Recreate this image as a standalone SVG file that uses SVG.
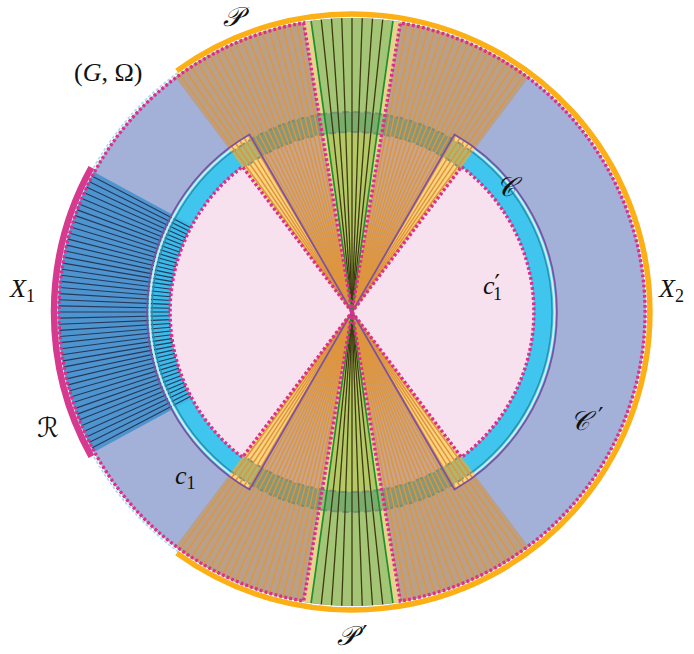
<svg xmlns="http://www.w3.org/2000/svg" xmlns:xlink="http://www.w3.org/1999/xlink" width="694" height="654" viewBox="0 0 694 654">
<style>
.lbl{font-family:"Liberation Serif","DejaVu Serif",serif;font-size:26px;fill:#111}
.it{font-style:italic}
.scr{font-family:"DejaVu Serif","DejaVu Sans","Noto Sans",serif;font-size:27px;fill:#111;font-style:italic}
.sub{font-size:18px;font-style:normal}
.pr{font-family:"DejaVu Sans",sans-serif;font-size:24px;font-style:normal;fill:#111}
.orr{stroke:#de953e;stroke-width:1.5}
.grr{stroke:#3e3a10;stroke-width:1.3}
.gre{stroke:#1f8f2d;stroke-width:1.7}
.blr{stroke:#26395a;stroke-width:1.1}
.dot{fill:none;stroke:#dd2f8a;stroke-width:3.4;stroke-dasharray:2.8 2.3}
.pur{fill:none;stroke:#7d519f;stroke-width:1.7}
.bandedge{fill:none;stroke:#6f8a78;stroke-width:2;stroke-dasharray:7 4;opacity:0.8}
</style>
<defs>
<line id="ro" x1="0" y1="0" x2="294" y2="0"/>
<line id="rb" x1="182" y1="0" x2="293" y2="0"/>
<g id="topRays">
<g class="orr">
<use href="#ro" transform="rotate(-54)"/><use href="#ro" transform="rotate(-55.4)"/><use href="#ro" transform="rotate(-56.8)"/><use href="#ro" transform="rotate(-58.2)"/><use href="#ro" transform="rotate(-59.6)"/><use href="#ro" transform="rotate(-61)"/><use href="#ro" transform="rotate(-62.4)"/><use href="#ro" transform="rotate(-63.8)"/><use href="#ro" transform="rotate(-65.2)"/><use href="#ro" transform="rotate(-66.6)"/><use href="#ro" transform="rotate(-68)"/><use href="#ro" transform="rotate(-69.4)"/><use href="#ro" transform="rotate(-70.8)"/><use href="#ro" transform="rotate(-72.2)"/><use href="#ro" transform="rotate(-73.6)"/><use href="#ro" transform="rotate(-75)"/><use href="#ro" transform="rotate(-76.4)"/><use href="#ro" transform="rotate(-77.8)"/><use href="#ro" transform="rotate(-79.2)"/>
<use href="#ro" transform="rotate(-126)"/><use href="#ro" transform="rotate(-124.6)"/><use href="#ro" transform="rotate(-123.2)"/><use href="#ro" transform="rotate(-121.8)"/><use href="#ro" transform="rotate(-120.4)"/><use href="#ro" transform="rotate(-119)"/><use href="#ro" transform="rotate(-117.6)"/><use href="#ro" transform="rotate(-116.2)"/><use href="#ro" transform="rotate(-114.8)"/><use href="#ro" transform="rotate(-113.4)"/><use href="#ro" transform="rotate(-112)"/><use href="#ro" transform="rotate(-110.6)"/><use href="#ro" transform="rotate(-109.2)"/><use href="#ro" transform="rotate(-107.8)"/><use href="#ro" transform="rotate(-106.4)"/><use href="#ro" transform="rotate(-105)"/><use href="#ro" transform="rotate(-103.6)"/><use href="#ro" transform="rotate(-102.2)"/><use href="#ro" transform="rotate(-100.8)"/>
</g>
<g class="grr">
<use href="#ro" transform="rotate(-84)"/><use href="#ro" transform="rotate(-86)"/><use href="#ro" transform="rotate(-88)"/><use href="#ro" transform="rotate(-90)"/><use href="#ro" transform="rotate(-92)"/><use href="#ro" transform="rotate(-94)"/><use href="#ro" transform="rotate(-96)"/>
</g>
<g class="gre">
<use href="#ro" transform="rotate(-82)"/><use href="#ro" transform="rotate(-98)"/>
</g>
</g>
<g id="topWedge">
<path d="M0 0 L176.9 -234.8 A294 294 0 0 0 -176.9 -234.8 Z" fill="#b8a08b"/>
<path d="M0 0 L108.3 -143.8 A180 180 0 0 0 -108.3 -143.8 Z" fill="#c8a58e"/>
<path d="M0 0 L-102.5 -177.5 A205 205 0 0 0 -123.4 -163.7 Z" fill="#fdd47e"/>
<path d="M0 0 L123.4 -163.7 A205 205 0 0 0 102.5 -177.5 Z" fill="#fdd47e"/>
<path d="M0 0 L-40.9 -291.1 A294 294 0 0 0 -48.5 -290 Z" fill="#e6d48c"/>
<path d="M0 0 L48.5 -290 A294 294 0 0 0 40.9 -291.1 Z" fill="#e6d48c"/>
<path d="M0 0 L40.9 -291.1 A294 294 0 0 0 -40.9 -291.1 Z" fill="#a4c576"/>
<path d="M0 0 L25.05 -178.25 A180 180 0 0 0 -25.05 -178.25 Z" fill="#b4c965"/>
<path d="M108.3 -143.8 L120.4 -159.7 A200 200 0 0 0 -120.4 -159.7 L-108.3 -143.8 A180 180 0 0 1 108.3 -143.8 Z" fill="#3d8c62" opacity="0.42"/>
<path d="M108.3 -143.8 A180 180 0 0 0 -108.3 -143.8 M120.4 -159.7 A200 200 0 0 0 -120.4 -159.7" class="bandedge"/>
</g>
</defs>
<g transform="translate(352 312)">
<g id="base">
<circle r="294" fill="#a3b1d8"/>
<path d="M0 0 L-102.5 -177.5 A205 205 0 0 0 -102.5 177.5 Z" fill="#3fc5ee"/>
<path d="M0 0 L102.5 177.5 A205 205 0 0 0 102.5 -177.5 Z" fill="#3fc5ee"/>
<path d="M0 0 L-109.5 -145.3 A182 182 0 0 0 -109.5 145.3 Z" fill="#f8e1ef"/>
<path d="M0 0 L109.5 145.3 A182 182 0 0 0 109.5 -145.3 Z" fill="#f8e1ef"/>
</g>
<g id="P">
<use href="#topWedge"/>
<use href="#topRays"/>
</g>
<g id="Pprime" transform="scale(1,-1)">
<use href="#topWedge"/>
<use href="#topRays"/>
</g>
<g id="R">
<path d="M-180.2 -97.8 L-258.4 -140.3 A294 294 0 0 0 -258.4 140.3 L-180.2 97.8 A205 205 0 0 1 -180.2 -97.8 Z" fill="#4e95d0"/>
<path d="M-159.9 -86.9 L-180.2 -97.8 A205 205 0 0 0 -180.2 97.8 L-159.9 86.9 A182 182 0 0 1 -159.9 -86.9 Z" fill="#3bbbea"/>
<g class="blr">
<use href="#rb" transform="rotate(-152.4)"/><use href="#rb" transform="rotate(-153.6)"/><use href="#rb" transform="rotate(-154.8)"/><use href="#rb" transform="rotate(-156)"/><use href="#rb" transform="rotate(-157.2)"/><use href="#rb" transform="rotate(-158.4)"/><use href="#rb" transform="rotate(-159.6)"/><use href="#rb" transform="rotate(-160.8)"/><use href="#rb" transform="rotate(-162)"/><use href="#rb" transform="rotate(-163.2)"/><use href="#rb" transform="rotate(-164.4)"/><use href="#rb" transform="rotate(-165.6)"/><use href="#rb" transform="rotate(-166.8)"/><use href="#rb" transform="rotate(-168)"/><use href="#rb" transform="rotate(-169.2)"/><use href="#rb" transform="rotate(-170.4)"/><use href="#rb" transform="rotate(-171.6)"/><use href="#rb" transform="rotate(-172.8)"/><use href="#rb" transform="rotate(-174)"/><use href="#rb" transform="rotate(-175.2)"/><use href="#rb" transform="rotate(-176.4)"/><use href="#rb" transform="rotate(-177.6)"/><use href="#rb" transform="rotate(-178.8)"/><use href="#rb" transform="rotate(-180)"/><use href="#rb" transform="rotate(-181.2)"/><use href="#rb" transform="rotate(-182.4)"/><use href="#rb" transform="rotate(-183.6)"/><use href="#rb" transform="rotate(-184.8)"/><use href="#rb" transform="rotate(-186)"/><use href="#rb" transform="rotate(-187.2)"/><use href="#rb" transform="rotate(-188.4)"/><use href="#rb" transform="rotate(-189.6)"/><use href="#rb" transform="rotate(-190.8)"/><use href="#rb" transform="rotate(-192)"/><use href="#rb" transform="rotate(-193.2)"/><use href="#rb" transform="rotate(-194.4)"/><use href="#rb" transform="rotate(-195.6)"/><use href="#rb" transform="rotate(-196.8)"/><use href="#rb" transform="rotate(-198)"/><use href="#rb" transform="rotate(-199.2)"/><use href="#rb" transform="rotate(-200.4)"/><use href="#rb" transform="rotate(-201.6)"/><use href="#rb" transform="rotate(-202.8)"/><use href="#rb" transform="rotate(-204)"/><use href="#rb" transform="rotate(-205.2)"/><use href="#rb" transform="rotate(-206.4)"/><use href="#rb" transform="rotate(-207.6)"/>
</g>
</g>
<g id="C-detail">
<path d="M-120.4 -159.7 A200 200 0 0 0 -120.4 159.7 M120.4 159.7 A200 200 0 0 0 120.4 -159.7" fill="none" stroke="#2a8fa8" stroke-width="1.3"/>
<path d="M-121.9 -161.7 A202.5 202.5 0 0 0 -121.9 161.7 M121.9 161.7 A202.5 202.5 0 0 0 121.9 -161.7" fill="none" stroke="#cdeef8" stroke-width="2"/>
</g>
<g id="C">
<path class="pur" d="M0 0 L-102.5 -177.5 A205 205 0 0 0 -102.5 177.5 Z"/>
<path class="pur" d="M0 0 L102.5 177.5 A205 205 0 0 0 102.5 -177.5 Z"/>
</g>
<g id="boundaries">
<circle r="296" fill="none" stroke="#a8dcf0" stroke-width="1.6" stroke-dasharray="3 2"/>
<path class="dot" d="M0 0 L-109.5 -145.3 A182 182 0 0 0 -109.5 145.3 Z"/>
<path class="dot" d="M0 0 L109.5 145.3 A182 182 0 0 0 109.5 -145.3 Z"/>
<path class="dot" d="M0 0 L-48.35 -289 A293 293 0 0 0 -48.35 289 Z"/>
<path class="dot" d="M0 0 L48.35 289 A293 293 0 0 0 48.35 -289 Z"/>
<path d="M-175.2 -241.1 A298 298 0 1 1 -175.2 241.1" fill="none" stroke="#fcb016" stroke-width="5.5"/>
<path d="M-260.6 -144.5 A298 298 0 0 0 -260.6 144.5" fill="none" stroke="#d63a8f" stroke-width="6.5"/>
</g>
</g>
<g id="labels">
<text class="scr" x="232" y="26" text-anchor="middle">𝒫</text>
<text class="lbl" x="74" y="81">(<tspan class="it">G</tspan>, Ω)</text>
<text class="lbl it" x="10" y="297">X<tspan class="sub" dy="5">1</tspan></text>
<text class="scr" x="48" y="437" text-anchor="middle">ℛ</text>
<text class="lbl it" x="175" y="484">c<tspan class="sub" dy="5">1</tspan></text>
<text class="lbl it" x="483" y="294">c<tspan class="pr" dx="0" dy="-2">′</tspan><tspan class="sub" dx="-7" dy="8">1</tspan></text>
<text class="scr" x="506" y="196" text-anchor="middle">𝒞</text>
<text class="lbl it" x="659" y="297">X<tspan class="sub" dy="5">2</tspan></text>
<text class="scr" x="570" y="430">𝒞</text>
<text class="pr" x="598" y="425">′</text>
<text class="scr" x="337" y="645">𝒫</text>
<text class="pr" x="362" y="643">′</text>
</g>
</svg>
